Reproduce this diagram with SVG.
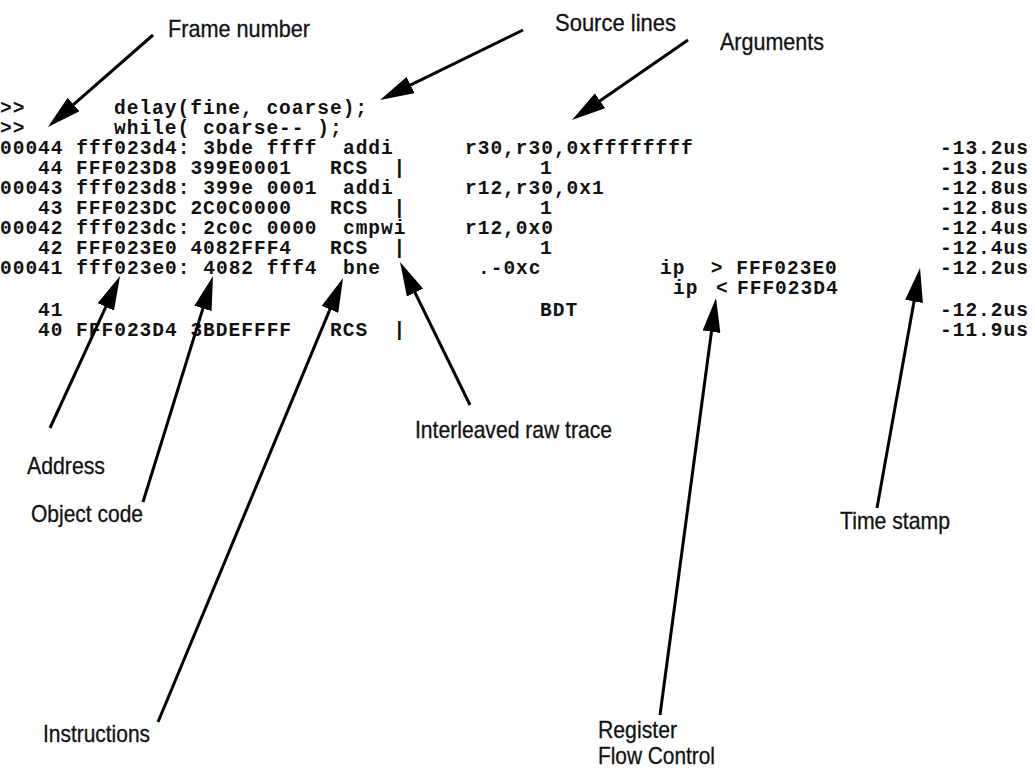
<svg xmlns="http://www.w3.org/2000/svg" width="1035" height="775" viewBox="0 0 1035 775">
<style>
.code{font-family:"Liberation Mono","DejaVu Sans Mono",monospace;font-weight:bold;font-size:19.5px;letter-spacing:1px;fill:#111;white-space:pre}
.lbl{font-family:"Liberation Sans","Arial",sans-serif;font-size:24px;fill:#111;stroke:#111;stroke-width:0.3}
.arr{stroke:#000;stroke-width:3;fill:none;marker-end:url(#ah)}
</style>
<defs>
<marker id="ah" markerUnits="userSpaceOnUse" markerWidth="34" markerHeight="18" viewBox="0 0 34 18" refX="10" refY="9" orient="auto">
<path d="M0,0 L34,9 L0,18 z" fill="#000"/>
</marker>
</defs>
<rect width="1035" height="775" fill="#fff"/>
<g id="trace">
<text class="code" y="114" xml:space="preserve"><tspan x="0">&gt;&gt;</tspan><tspan x="114">delay(fine, coarse);</tspan></text>
<text class="code" y="134" xml:space="preserve"><tspan x="0">&gt;&gt;</tspan><tspan x="114">while( coarse-- );</tspan></text>
<text class="code" y="154" xml:space="preserve"><tspan x="0">00044 fff023d4: 3bde ffff  addi</tspan><tspan x="465">r30,r30,0xffffffff</tspan><tspan x="940">-13.2us</tspan></text>
<text class="code" y="174" xml:space="preserve"><tspan x="38">44 FFF023D8 399E0001</tspan><tspan x="330">RCS  |</tspan><tspan x="540">1</tspan><tspan x="940">-13.2us</tspan></text>
<text class="code" y="194" xml:space="preserve"><tspan x="0">00043 fff023d8: 399e 0001  addi</tspan><tspan x="465">r12,r30,0x1</tspan><tspan x="940">-12.8us</tspan></text>
<text class="code" y="214" xml:space="preserve"><tspan x="38">43 FFF023DC 2C0C0000</tspan><tspan x="330">RCS  |</tspan><tspan x="540">1</tspan><tspan x="940">-12.8us</tspan></text>
<text class="code" y="234" xml:space="preserve"><tspan x="0">00042 fff023dc: 2c0c 0000  cmpwi</tspan><tspan x="465">r12,0x0</tspan><tspan x="940">-12.4us</tspan></text>
<text class="code" y="254" xml:space="preserve"><tspan x="38">42 FFF023E0 4082FFF4</tspan><tspan x="330">RCS  |</tspan><tspan x="540">1</tspan><tspan x="940">-12.4us</tspan></text>
<text class="code" y="274" xml:space="preserve"><tspan x="0">00041 fff023e0: 4082 fff4  bne</tspan><tspan x="478">.-0xc</tspan><tspan x="660">ip  &gt; FFF023E0</tspan><tspan x="940">-12.2us</tspan></text>
<text class="code" y="294" xml:space="preserve"><tspan x="673">ip</tspan><tspan x="716">&lt;</tspan><tspan x="737">FFF023D4</tspan></text>
<text class="code" y="316" xml:space="preserve"><tspan x="38">41</tspan><tspan x="540">BDT</tspan><tspan x="940">-12.2us</tspan></text>
<text class="code" y="336" xml:space="preserve"><tspan x="38">40 FFF023D4 3BDEFFFF</tspan><tspan x="330">RCS  |</tspan><tspan x="940">-11.9us</tspan></text>
</g>
<g id="labels">
<text id="frame-number" class="lbl" x="168" y="37" textLength="142" lengthAdjust="spacingAndGlyphs">Frame number</text>
<text id="source-lines" class="lbl" x="555" y="31" textLength="121" lengthAdjust="spacingAndGlyphs">Source lines</text>
<text id="arguments" class="lbl" x="720" y="50" textLength="104" lengthAdjust="spacingAndGlyphs">Arguments</text>
<text id="interleaved" class="lbl" x="415" y="438" textLength="197" lengthAdjust="spacingAndGlyphs">Interleaved raw trace</text>
<text id="address" class="lbl" x="27" y="474" textLength="78" lengthAdjust="spacingAndGlyphs">Address</text>
<text id="object-code" class="lbl" x="31" y="522" textLength="112" lengthAdjust="spacingAndGlyphs">Object code</text>
<text id="instructions" class="lbl" x="43" y="742" textLength="107" lengthAdjust="spacingAndGlyphs">Instructions</text>
<text id="time-stamp" class="lbl" x="840" y="529" textLength="110" lengthAdjust="spacingAndGlyphs">Time stamp</text>
<text id="register" class="lbl" x="598" y="738" textLength="79" lengthAdjust="spacingAndGlyphs">Register</text>
<text id="flow-control" class="lbl" x="598" y="764" textLength="117" lengthAdjust="spacingAndGlyphs">Flow Control</text>
</g>
<g id="connectors">
<line class="arr" x1="153" y1="35" x2="66" y2="111.2"/>
<line class="arr" x1="523" y1="30" x2="401.6" y2="89.4"/>
<line class="arr" x1="688" y1="40" x2="591.8" y2="106.4"/>
<line class="arr" x1="50" y1="428" x2="110" y2="297.8"/>
<line class="arr" x1="143" y1="502" x2="205.9" y2="298.9"/>
<line class="arr" x1="158" y1="722" x2="333.8" y2="300.2"/>
<line class="arr" x1="470" y1="405" x2="410.6" y2="283.6"/>
<line class="arr" x1="660" y1="715" x2="712.8" y2="321.8"/>
<line class="arr" x1="877" y1="508" x2="915.8" y2="291.6"/>
</g>
</svg>
